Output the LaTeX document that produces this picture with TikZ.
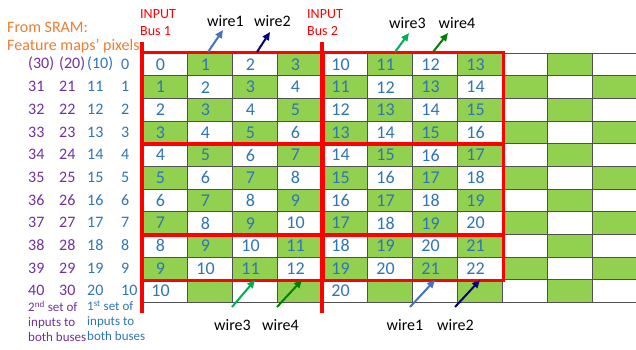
\documentclass[tikz,border=0pt]{standalone}
\usepackage{fontspec}
\setmainfont{Carlito}
\usetikzlibrary{arrows.meta, positioning, calc}

\definecolor{cellgreen}{RGB}{146,208,80}
\definecolor{numblue}{RGB}{46,117,182}
\definecolor{labpurple}{RGB}{112,48,160}
\definecolor{sramorange}{RGB}{237,125,49}
\definecolor{wireone}{RGB}{68,114,196}
\definecolor{wiretwo}{RGB}{0,0,128}
\definecolor{wirethree}{RGB}{0,176,80}
\definecolor{wirefour}{RGB}{0,128,0}
\definecolor{gridgray}{RGB}{80,80,80}

\tikzset{
  cellbox/.style={rectangle, draw=gridgray, line width=1pt,
                  minimum width=45pt, minimum height=22.67pt,
                  inner sep=0pt, anchor=north west},
  cellnum/.style={text=numblue, font=\fontsize{18}{18}\selectfont, inner sep=0pt},
  rowlab/.style={anchor=west, inner sep=0pt, font=\fontsize{16}{16}\selectfont},
  busblock/.style={draw=red, line width=3pt},
  busline/.style={draw=red, line width=4pt},
  wirelab/.style={anchor=base, inner sep=0pt, font=\fontsize{16}{16}\selectfont},
  wirearrow/.style={line width=2pt, -{Triangle[length=8pt,width=7pt]}},
  buslab/.style={text=red, font=\fontsize{14}{16.5}\selectfont, align=left,
                 inner sep=0pt, anchor=north west},
  setlab/.style={font=\fontsize{13}{15}\selectfont, align=left,
                 inner sep=0pt, anchor=north west},
}

\begin{document}
\begin{tikzpicture}[x=1pt, y=-1pt]
  \useasboundingbox (0,0) rectangle (636,349);

  % grid of cells, checkerboard fill
  \foreach \r in {0,...,10} {
    \foreach \c in {0,...,10} {
      \pgfmathparse{mod(\r+\c,2)==1 ? "cellgreen" : "white"}
      \edef\cellfill{\pgfmathresult}
      \node[cellbox, fill=\cellfill] (cell-\r-\c) at ({142+45*\c},{52.67+22.67*\r}) {};
    }
  }

  % numbers on bus 1 and bus 2
  \foreach \r in {0,...,9} {
    \foreach \c in {0,...,3} {
      \pgfmathtruncatemacro\va{\r+\c}
      \pgfmathtruncatemacro\vb{10+\r+\c}
      \pgfmathtruncatemacro\cb{\c+4}
      \node[cellnum] (numa-\r-\c) at ([xshift=-4.5pt]cell-\r-\c.center) {\va};
      \node[cellnum] (numb-\r-\c) at ([xshift=-4.5pt]cell-\r-\cb.center) {\vb};
    }
  }
  \node[cellnum] (numa-10-0) at ([xshift=-4.5pt]cell-10-0.center) {10};
  \node[cellnum] (numb-10-0) at ([xshift=-4.5pt]cell-10-4.center) {20};

  % red blocks
  \foreach \ra/\rb in {0/3, 4/7, 8/9} {
    \draw[busblock] (cell-\ra-0.north west) rectangle (cell-\rb-3.south east);
    \draw[busblock] (cell-\ra-4.north west) rectangle (cell-\rb-7.south east);
  }
  \coordinate (busonetop) at (142,42);
  \coordinate (busonebot) at (142,313);
  \coordinate (bustwotop) at (322,42);
  \coordinate (bustwobot) at (322,313);
  \draw[busline] (busonetop) -- (busonebot);
  \draw[busline] (bustwotop) -- (bustwobot);

  % SRAM pixel columns
  \node[rowlab, text=labpurple] (srca-0) at (28,64) {(30)};
  \node[rowlab, text=labpurple] (srcb-0) at (59,64) {(20)};
  \node[rowlab, text=numblue]   (srcc-0) at (87,64) {(10)};
  \node[rowlab, text=numblue]   (srcd-0) at (121,64) {0};
  \foreach \r in {1,...,10} {
    \pgfmathtruncatemacro\la{30+\r}
    \pgfmathtruncatemacro\lb{20+\r}
    \pgfmathtruncatemacro\lc{10+\r}
    \node[rowlab, text=labpurple] (srca-\r) at (28,{64+22.67*\r}) {\la};
    \node[rowlab, text=labpurple] (srcb-\r) at (59,{64+22.67*\r}) {\lb};
    \node[rowlab, text=numblue]   (srcc-\r) at (87,{64+22.67*\r}) {\lc};
    \node[rowlab, text=numblue]   (srcd-\r) at (121,{64+22.67*\r}) {\r};
  }

  \node[align=left, inner sep=0pt, anchor=north west, text=sramorange,
        font=\fontsize{16}{18}\selectfont] (sram) at (7,21.5)
        {From SRAM:\\Feature maps’ pixels};
  \node[buslab] (busone) at (140,9.5) {INPUT\\Bus 1};
  \node[buslab] (bustwo) at (307,9.5) {INPUT\\Bus 2};

  \node[setlab, text=labpurple] (setsecond) at (28,300.5)
        {2\textsuperscript{nd} set of\\inputs to\\both buses};
  \node[setlab, text=numblue] (setfirst) at (87,300.5)
        {1\textsuperscript{st} set of\\inputs to\\both buses};

  % wires on top
  \node[wirelab] (topwone)   at (225.5,26.5) {wire1};
  \node[wirelab] (topwtwo)   at (272.5,26.5) {wire2};
  \node[wirelab] (topwthree) at (407.5,28.3) {wire3};
  \node[wirelab] (topwfour)  at (457,28.3) {wire4};
  \coordinate (twone-a) at (208,52);   \coordinate (twone-b) at (223,30);
  \coordinate (twtwo-a) at (257,52);   \coordinate (twtwo-b) at (270,32);
  \coordinate (twthree-a) at (395,52); \coordinate (twthree-b) at (409,33);
  \coordinate (twfour-a) at (433,52);  \coordinate (twfour-b) at (448,33);
  \draw[wirearrow, wireone]   (twone-a) -- (twone-b);
  \draw[wirearrow, wiretwo]   (twtwo-a) -- (twtwo-b);
  \draw[wirearrow, wirethree] (twthree-a) -- (twthree-b);
  \draw[wirearrow, wirefour]  (twfour-a) -- (twfour-b);

  % wires at the bottom
  \node[wirelab] (botwthree) at (232.5,330) {wire3};
  \node[wirelab] (botwfour)  at (280.5,330) {wire4};
  \node[wirelab] (botwone)   at (405,330) {wire1};
  \node[wirelab] (botwtwo)   at (455.5,330) {wire2};
  \coordinate (bwthree-a) at (232,307); \coordinate (bwthree-b) at (255,280);
  \coordinate (bwfour-a) at (277,307);  \coordinate (bwfour-b) at (302,280);
  \coordinate (bwone-a) at (410,307);   \coordinate (bwone-b) at (435,280);
  \coordinate (bwtwo-a) at (455,307);   \coordinate (bwtwo-b) at (480,280);
  \draw[wirearrow, wirethree] (bwthree-a) -- (bwthree-b);
  \draw[wirearrow, wirefour]  (bwfour-a) -- (bwfour-b);
  \draw[wirearrow, wireone]   (bwone-a) -- (bwone-b);
  \draw[wirearrow, wiretwo]   (bwtwo-a) -- (bwtwo-b);
\end{tikzpicture}
\end{document}
